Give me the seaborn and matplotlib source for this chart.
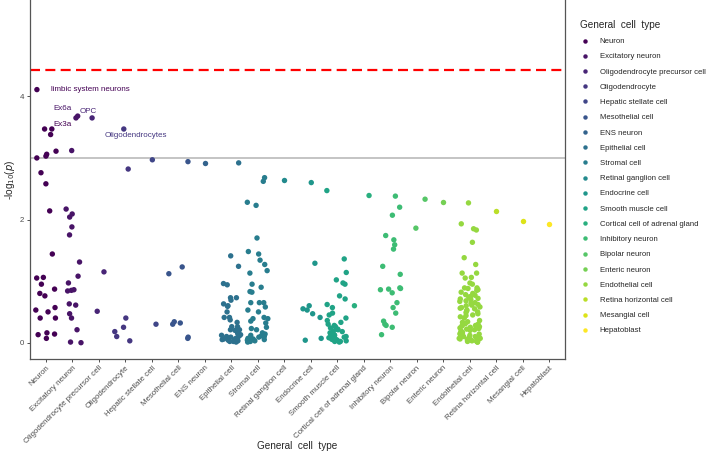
import numpy as np
import pandas as pd
import matplotlib
matplotlib.use("Agg")
import matplotlib.pyplot as plt
from matplotlib.lines import Line2D
import seaborn as sns

# --- dati (-log10 p per tipo cellulare) ---
cell_types = ["Neuron", "Excitatory neuron", "Oligodendrocyte precursor cell",
              "Oligodendrocyte", "Hepatic stellate cell", "Mesothelial cell",
              "ENS neuron", "Epithelial cell", "Stromal cell", "Retinal ganglion cell",
              "Endocrine cell", "Smooth muscle cell", "Cortical cell of adrenal gland",
              "Inhibitory neuron", "Bipolar neuron", "Enteric neuron", "Endothelial cell",
              "Retina horizontal cell", "Mesangial cell", "Hepatoblast"]

neuron = [4.11, 3.47, 3.47, 3.38, 3.11, 3.06, 3.03, 3.00, 2.76, 2.58, 2.14, 1.44,
          1.06, 1.05, 0.95, 0.87, 0.80, 0.76, 0.57, 0.53, 0.50, 0.40, 0.40, 0.16,
          0.14, 0.13, 0.07]
excitatory = [3.68, 3.65, 3.12, 2.17, 2.09, 2.04, 1.88, 1.75, 1.31, 1.08, 0.97, 0.86,
              0.84, 0.85, 0.63, 0.61, 0.47, 0.40, 0.21, 0.01, 0.00]
opc = [3.65, 1.15, 0.51]
oligodendrocyte = [3.47, 2.82, 0.40, 0.25, 0.18, 0.10, 0.03]
hepatic_stellate = [2.97, 0.30]
mesothelial = [2.94, 1.23, 1.12, 0.34, 0.32, 0.30, 0.09, 0.07]
ens_neuron = [2.92]
epithelial = [2.92, 1.41, 1.24, 0.96, 0.94, 0.73, 0.73, 0.69, 0.63, 0.60, 0.59, 0.50,
              0.41, 0.41, 0.37, 0.33, 0.26, 0.26, 0.21, 0.21, 0.21, 0.20, 0.15, 0.13,
              0.12, 0.11, 0.10, 0.09, 0.08, 0.07, 0.06, 0.05, 0.05, 0.04, 0.03, 0.02,
              0.02, 0.01]
stromal = [2.68, 2.62, 2.28, 2.23, 1.70, 1.48, 1.44, 1.34, 1.27, 1.17, 1.13, 0.95,
           0.90, 0.83, 0.82, 0.65, 0.65, 0.65, 0.58, 0.53, 0.50, 0.41, 0.39, 0.39,
           0.35, 0.32, 0.25, 0.23, 0.21, 0.16, 0.14, 0.12, 0.11, 0.10, 0.09, 0.08,
           0.07, 0.06, 0.05, 0.05, 0.04, 0.03, 0.02, 0.02, 0.01]
retinal_ganglion = [2.65]
endocrine = [2.60, 1.29, 0.60, 0.55, 0.53, 0.47, 0.41, 0.07, 0.04]
smooth_muscle = [2.47, 1.36, 1.14, 1.02, 0.97, 0.95, 0.76, 0.71, 0.62, 0.57, 0.48,
                 0.45, 0.40, 0.36, 0.33, 0.30, 0.28, 0.26, 0.24, 0.22, 0.21, 0.19,
                 0.18, 0.16, 0.15, 0.13, 0.12, 0.11, 0.10, 0.09, 0.08, 0.07, 0.06,
                 0.05, 0.05, 0.04, 0.03, 0.02, 0.02, 0.01]
cortical_adrenal = [2.39, 0.60]
inhibitory = [2.38, 2.20, 2.07, 1.74, 1.67, 1.59, 1.52, 1.24, 1.11, 0.89, 0.87, 0.81,
              0.86, 0.88, 0.65, 0.57, 0.48, 0.35, 0.28, 0.30, 0.25, 0.13]
bipolar = [2.33, 1.86]
enteric = [2.28]
endothelial = [2.27, 1.93, 1.85, 1.83, 1.63, 1.38, 1.27, 1.13, 1.13, 1.06, 1.05, 0.97,
               0.95, 0.89, 0.89, 0.88, 0.86, 0.85,
               0.82, 0.80, 0.78, 0.77, 0.75, 0.74, 0.72, 0.71, 0.70, 0.68, 0.67, 0.65,
               0.64, 0.62, 0.61, 0.60, 0.58, 0.57, 0.56, 0.55, 0.53, 0.52, 0.50, 0.49,
               0.47, 0.45, 0.44, 0.42, 0.40, 0.36, 0.34, 0.33, 0.31, 0.30, 0.29, 0.28,
               0.27, 0.26, 0.25, 0.24, 0.23, 0.22, 0.21, 0.20, 0.19, 0.18, 0.17, 0.16,
               0.15, 0.14, 0.14, 0.13, 0.12, 0.11, 0.10, 0.10, 0.09, 0.08, 0.07, 0.07,
               0.06, 0.05, 0.05, 0.04, 0.03, 0.03, 0.02, 0.02, 0.01, 0.01]
retina_horizontal = [2.14]
mesangial = [1.98]
hepatoblast = [1.93]

valori = [neuron, excitatory, opc, oligodendrocyte, hepatic_stellate, mesothelial,
          ens_neuron, epithelial, stromal, retinal_ganglion, endocrine, smooth_muscle,
          cortical_adrenal, inhibitory, bipolar, enteric, endothelial,
          retina_horizontal, mesangial, hepatoblast]

# etichette dei punti evidenziati (stile ggrepel): testo, tipo cellulare di riferimento
etichette = ["limbic system neurons", "Ex6a", "Ex3a", "OPC", "Oligodendrocytes"]
etichette_tipo = ["Neuron", "Excitatory neuron", "Neuron",
                  "Oligodendrocyte precursor cell", "Oligodendrocyte"]

soglia_bonf = 4.434
soglia_nom = 3.0

df = pd.DataFrame({
    "cell_type": [c for c, v in zip(cell_types, valori) for _ in v],
    "logp": [x for v in valori for x in v],
})

colori = [matplotlib.colormaps["viridis"](i / (len(cell_types) - 1)) for i in range(len(cell_types))]
pal = dict(zip(cell_types, colori))

# --- grafico ---
sns.set_theme(style="white")
plt.rcParams["font.family"] = ["Liberation Sans", "DejaVu Sans"]

fig = plt.figure(figsize=(7.08, 4.57), dpi=100)
ax = fig.add_axes([30 / 708, 98 / 457, 535 / 708, 359 / 457])

np.random.seed(7)
sns.stripplot(data=df, x="cell_type", y="logp", hue="cell_type", order=cell_types,
              hue_order=cell_types, palette=pal, jitter=0.4, size=3.9, linewidth=0,
              legend=False, ax=ax, zorder=3)

ax.axhline(soglia_bonf, color="#FF0000", lw=1.6, ls=(0, (4.5, 2.4)), zorder=2)
ax.axhline(soglia_nom, color="#C4C4C4", lw=1.4, zorder=2)

ax.set_xlim(-0.6, len(cell_types) - 0.4)
ax.set_ylim(-0.265, 5.565)
ax.set_yticks([0, 2, 4])

# posizione del testo delle etichette (coordinate dati, come le ha messe ggrepel)
pos_testo = {"limbic system neurons": (0.20, 4.11, "left"),
             "Ex6a": (0.62, 3.80, "center"),
             "Ex3a": (0.62, 3.54, "center"),
             "OPC": (1.60, 3.75, "center"),
             "Oligodendrocytes": (3.38, 3.36, "center")}
for testo, tipo in zip(etichette, etichette_tipo):
    tx, ty, ha = pos_testo[testo]
    ax.text(tx, ty, testo, ha=ha, va="center", fontsize=5.8,
            color=colori[cell_types.index(tipo)], zorder=1)

ax.spines["top"].set_visible(False)
for s in ["left", "right", "bottom"]:
    ax.spines[s].set_color("#555555")
    ax.spines[s].set_linewidth(0.9)

ax.tick_params(axis="both", length=2.5, width=0.6, color="#333333", labelsize=5.7,
               labelcolor="#4D4D4D", pad=1.5, bottom=True, left=True)
plt.setp(ax.get_xticklabels(), rotation=45, ha="right", rotation_mode="anchor")

ax.set_xlabel("General  cell  type", fontsize=7.2, va="center")
ax.xaxis.set_label_coords(0.5, (359 - 446) / 359)
ax.set_ylabel(r"-log$_{10}$($\it{p}$)", fontsize=7.2, va="center")
ax.yaxis.set_label_coords((10 - 30) / 535, 0.5)

handles = [Line2D([], [], marker="o", ls="", markersize=3.2, markeredgewidth=0,
                  color=colori[i]) for i in range(len(cell_types))]
fig.legend(handles, cell_types, loc="upper left", bbox_to_anchor=(580 / 708, 1 - 20 / 457),
           frameon=False, fontsize=5.6, title="General  cell  type", title_fontsize=7.2,
           alignment="left", handlelength=1.3, handletextpad=1.25, labelspacing=1.0,
           borderpad=0, borderaxespad=0)

fig.savefig("out.png", dpi=100)
